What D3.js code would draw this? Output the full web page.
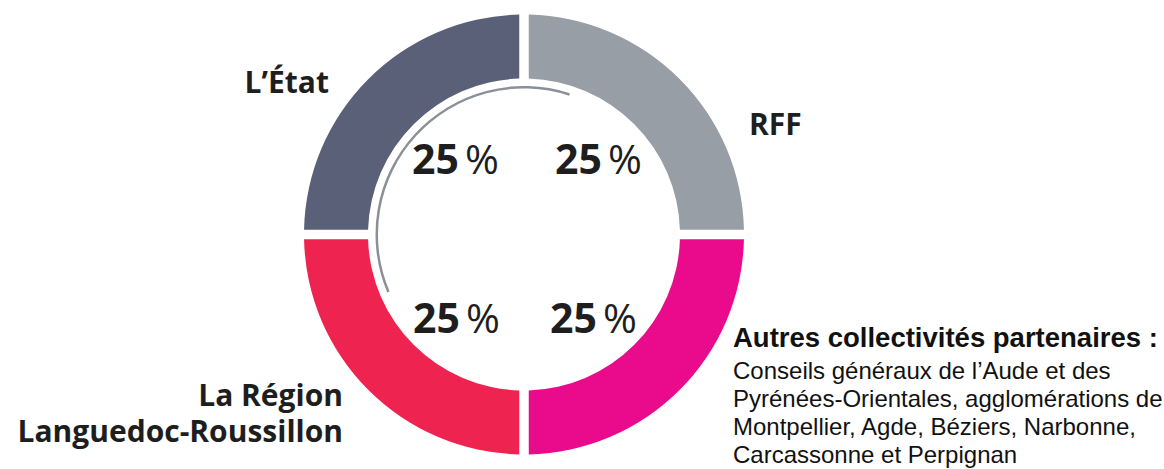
<!DOCTYPE html>
<html><head><meta charset="utf-8">
<script src="https://cdn.jsdelivr.net/npm/d3@7"></script>
<style>body{margin:0;background:#fff}</style>
</head><body>
<svg id="c" width="1164" height="469"></svg>
<script>
const categories = ["L’État", "RFF", "Autres collectivités partenaires", "La Région Languedoc-Roussillon"];
const shares = [25, 25, 25, 25];
const colors = ["#596078", "#979ea6", "#ea0a8c", "#ee2350"];
const pctLabels = ["25", "25", "25", "25"];
const detailLines = ["Conseils généraux de l’Aude et des", "Pyrénées-Orientales, agglomérations de", "Montpellier, Agde, Béziers, Narbonne,", "Carcassonne et Perpignan"];

const svg = d3.select("#c");
const cx = 524, cy = 234.5, rOut = 220, rIn = 156;
const g = svg.append("g").attr("transform", `translate(${cx},${cy})`);

// clockwise from 12 o'clock: RFF, Autres, Région, État
const order = [1, 2, 3, 0];
const pie = d3.pie().sort(null).value(i => shares[i]).startAngle(0).endAngle(2 * Math.PI);
const arcs = pie(order);
const arc = d3.arc().innerRadius(rIn).outerRadius(rOut).padAngle(9.5 / rOut).padRadius(rOut);
g.selectAll("path.slice").data(arcs).join("path").attr("class", "slice")
  .attr("d", arc).attr("fill", d => colors[d.data]);

const thin = d3.arc().innerRadius(146).outerRadius(148.5)
  .startAngle(247 * Math.PI / 180).endAngle(378 * Math.PI / 180);
g.append("path").attr("d", thin()).attr("fill", "#8b9097");

const pctPos = { 0: [-112, -61], 1: [31, -61], 3: [-111, 98], 2: [26, 98] };
order.forEach(i => {
  const t = g.append("text").attr("x", pctPos[i][0]).attr("y", pctPos[i][1])
    .attr("font-family", "Open Sans").attr("font-size", 41).attr("fill", "#1e1e1e");
  t.append("tspan").attr("font-weight", 700).text(pctLabels[i]);
  t.append("tspan").attr("font-weight", 400).attr("dx", 6).text("%");
});

const lab = (x, y, s, anchor) => svg.append("text").attr("x", x).attr("y", y)
  .attr("font-family", "Open Sans").attr("font-weight", 700).attr("font-size", 30)
  .attr("fill", "#1e1e1e").attr("text-anchor", anchor).text(s);
lab(329, 93, categories[0], "end");
lab(749, 135, categories[1], "start");
lab(343, 406, "La Région", "end");
lab(343, 442, "Languedoc-Roussillon", "end");

svg.append("text").attr("x", 733).attr("y", 347).attr("font-family", "Liberation Sans, Arial")
  .attr("font-weight", 700).attr("font-size", 27.5).attr("fill", "#111")
  .text(categories[2] + " :");
detailLines.forEach((s, k) => {
  svg.append("text").attr("x", 733).attr("y", 379 + k * 28).attr("font-family", "Liberation Sans, Arial")
    .attr("font-size", 24).attr("fill", "#111").text(s);
});
</script>
</body></html>
